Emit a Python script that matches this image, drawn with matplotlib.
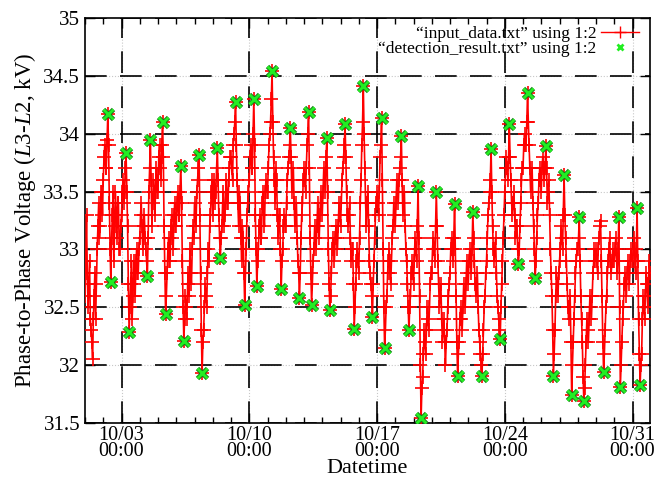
import matplotlib
matplotlib.use('Agg')
import matplotlib.pyplot as plt
import matplotlib.dates as mdates
from matplotlib.lines import Line2D
from matplotlib.ticker import MultipleLocator, FormatStrFormatter
import numpy as np
import pandas as pd

plt.rcParams['font.family'] = ['Liberation Serif', 'DejaVu Serif']
plt.rcParams['mathtext.fontset'] = 'custom'
plt.rcParams['mathtext.rm'] = 'Liberation Serif'
plt.rcParams['mathtext.it'] = 'Liberation Serif:italic'

# hourly voltage readings (kV), one row per day from 10/01 to 10/31
voltage_rows = [
    [32.6, 32.9, 33.3, 32.8, 32.5, 32.7, 32.9, 32.4, 32.3, 32.2, 32.05, 32.4, 32.6, 32.8, 32.4, 32.7, 33.0, 33.2, 33.4, 33.1, 33.2, 33.5, 33.5, 33.3],
    [33.6, 33.8, 33.9, 33.7, 33.7, 33.95, 34.17, 33.9, 33.4, 33.0, 32.72, 33.1, 33.3, 33.5, 32.9, 33.2, 33.5, 33.3, 33.1, 33.4, 33.4, 33.0, 33.0, 33.2],
    [33.3, 33.5, 33.6, 33.4, 33.5, 33.7, 33.83, 33.5, 33.2, 32.7, 32.29, 32.5, 32.7, 32.9, 32.4, 32.6, 32.9, 32.7, 32.6, 32.9, 33.0, 32.8, 32.8, 33.0],
    [33.1, 33.3, 33.4, 33.2, 33.0, 33.2, 33.3, 33.1, 33.0, 32.9, 32.77, 33.1, 33.5, 33.7, 33.95, 33.6, 33.2, 33.4, 33.6, 33.5, 33.3, 33.6, 33.7, 33.5],
    [33.5, 33.8, 33.9, 33.7, 33.6, 33.9, 34.10, 33.8, 33.2, 32.8, 32.44, 32.6, 32.8, 33.0, 33.1, 32.9, 32.9, 33.2, 33.3, 33.1, 33.0, 33.3, 33.4, 33.2],
    [33.2, 33.4, 33.5, 33.3, 33.3, 33.5, 33.72, 33.4, 32.9, 32.5, 32.21, 32.4, 32.6, 32.5, 32.4, 32.7, 32.8, 32.6, 33.0, 32.8, 32.7, 33.0, 33.2, 33.1],
    [33.4, 33.3, 33.2, 33.5, 33.6, 33.7, 33.82, 33.3, 32.8, 32.3, 31.93, 32.2, 32.3, 32.5, 32.7, 32.6, 32.5, 32.8, 33.0, 32.9, 33.2, 33.3, 33.5, 33.6],
    [33.3, 33.5, 33.6, 33.4, 33.5, 33.7, 33.88, 33.6, 33.3, 33.1, 32.93, 33.1, 33.2, 33.4, 33.5, 33.2, 33.3, 33.5, 33.6, 33.4, 33.4, 33.6, 33.7, 33.8],
    [33.8, 33.7, 33.6, 33.9, 34.0, 34.1, 34.27, 33.9, 33.6, 33.4, 33.2, 33.5, 33.4, 33.1, 32.9, 33.2, 33.1, 32.8, 32.52, 32.8, 33.0, 33.3, 33.4, 33.5],
    [33.6, 33.8, 33.9, 33.7, 33.7, 34.0, 34.30, 33.9, 33.3, 33.0, 32.68, 32.9, 33.0, 33.2, 33.3, 33.1, 33.1, 33.4, 33.5, 33.3, 33.2, 33.5, 33.6, 33.5],
    [33.5, 33.7, 33.9, 34.0, 34.1, 34.3, 34.54, 34.1, 33.8, 33.6, 33.4, 33.7, 33.6, 33.3, 33.1, 33.3, 33.3, 33.0, 32.66, 32.9, 33.0, 33.2, 33.3, 33.2],
    [33.2, 33.4, 33.6, 33.7, 33.8, 33.9, 34.05, 33.8, 33.5, 33.6, 33.7, 33.4, 33.2, 33.3, 33.4, 33.1, 32.9, 32.8, 32.58, 32.8, 33.1, 33.3, 33.4, 33.6],
    [33.7, 33.6, 33.5, 33.7, 33.9, 34.0, 34.19, 33.7, 33.1, 32.8, 32.52, 32.7, 32.9, 33.0, 33.2, 33.1, 33.0, 33.2, 33.4, 33.2, 33.1, 33.3, 33.5, 33.4],
    [33.3, 33.5, 33.7, 33.6, 33.5, 33.8, 33.96, 33.5, 33.0, 32.7, 32.48, 32.6, 32.8, 33.0, 33.1, 33.0, 32.9, 33.1, 33.2, 33.1, 33.0, 33.2, 33.4, 33.3],
    [33.2, 33.4, 33.6, 33.7, 33.8, 33.9, 34.08, 33.8, 33.5, 33.3, 33.2, 33.3, 33.4, 33.1, 32.9, 33.0, 33.0, 32.7, 32.31, 32.5, 32.7, 32.9, 33.0, 32.9],
    [32.8, 33.1, 33.4, 33.6, 33.9, 34.1, 34.41, 34.0, 33.7, 33.4, 33.2, 33.4, 33.5, 33.2, 32.9, 32.8, 32.7, 32.6, 32.42, 32.7, 32.9, 33.1, 33.3, 33.4],
    [33.5, 33.4, 33.3, 33.5, 33.8, 33.9, 34.14, 33.6, 33.0, 32.5, 32.15, 32.3, 32.5, 32.6, 32.8, 32.9, 33.0, 32.8, 32.7, 32.9, 33.1, 33.2, 33.4, 33.3],
    [33.2, 33.4, 33.6, 33.5, 33.4, 33.6, 33.7, 33.8, 33.98, 33.6, 33.3, 33.4, 33.5, 33.2, 33.0, 32.9, 32.7, 32.5, 32.30, 32.5, 32.6, 32.8, 32.9, 32.8],
    [32.7, 32.9, 33.1, 33.0, 32.9, 33.2, 33.55, 33.1, 32.6, 32.0, 31.54, 31.8, 31.9, 32.1, 32.3, 32.2, 32.1, 32.3, 32.5, 32.4, 32.3, 32.5, 32.7, 32.8],
    [32.8, 33.0, 33.1, 33.0, 32.9, 33.2, 33.50, 33.2, 32.9, 32.7, 32.5, 32.6, 32.7, 32.4, 32.2, 32.3, 32.4, 32.2, 32.0, 32.2, 32.3, 32.5, 32.6, 32.7],
    [32.8, 33.0, 33.1, 33.0, 32.9, 33.1, 33.39, 33.0, 32.6, 32.2, 31.91, 32.1, 32.2, 32.4, 32.5, 32.4, 32.3, 32.5, 32.7, 32.6, 32.5, 32.7, 32.9, 32.8],
    [32.7, 32.9, 33.0, 32.9, 32.8, 33.0, 33.32, 33.1, 32.9, 32.7, 32.6, 32.7, 32.8, 32.5, 32.3, 32.2, 32.1, 32.0, 31.91, 32.1, 32.3, 32.5, 32.6, 32.8],
    [32.9, 33.1, 33.3, 33.4, 33.5, 33.6, 33.87, 33.5, 33.2, 33.0, 32.9, 33.0, 33.1, 32.8, 32.6, 32.5, 32.4, 32.3, 32.23, 32.5, 32.7, 32.9, 33.1, 33.3],
    [33.5, 33.7, 33.8, 33.7, 33.6, 33.8, 34.08, 33.8, 33.6, 33.4, 33.3, 33.4, 33.5, 33.3, 33.1, 33.2, 33.2, 33.0, 32.87, 33.0, 33.2, 33.4, 33.6, 33.7],
    [33.7, 33.9, 34.0, 33.9, 33.9, 34.1, 34.35, 34.1, 33.9, 33.7, 33.5, 33.6, 33.7, 33.4, 33.2, 33.0, 32.75, 32.9, 33.1, 33.3, 33.4, 33.6, 33.7, 33.6],
    [33.5, 33.7, 33.8, 33.7, 33.6, 33.7, 33.89, 33.7, 33.4, 33.5, 33.6, 33.3, 33.0, 32.8, 32.6, 32.3, 31.91, 32.1, 32.3, 32.6, 32.8, 32.7, 32.6, 32.8],
    [32.9, 33.0, 33.2, 33.1, 33.0, 33.3, 33.64, 33.3, 33.1, 32.9, 32.7, 32.5, 32.4, 32.5, 32.6, 32.2, 31.74, 32.0, 32.2, 32.4, 32.6, 32.8, 32.9, 33.0],
    [33.0, 33.1, 33.28, 32.9, 32.6, 32.4, 32.2, 31.9, 31.69, 31.8, 32.0, 32.2, 32.4, 32.3, 32.2, 32.4, 32.6, 32.5, 32.4, 32.6, 32.8, 32.9, 33.0, 32.9],
    [33.0, 32.9, 32.8, 33.0, 33.1, 33.2, 33.25, 32.9, 32.6, 32.2, 31.94, 32.1, 32.3, 32.5, 32.6, 32.8, 32.9, 33.0, 33.1, 32.9, 32.8, 32.9, 33.0, 32.9],
    [32.9, 33.0, 33.1, 32.9, 32.8, 33.0, 33.28, 32.5, 31.81, 32.0, 32.2, 32.4, 32.5, 32.7, 32.8, 32.7, 32.6, 32.8, 32.9, 32.8, 32.7, 32.9, 33.0, 32.9],
    [32.9, 33.0, 33.1, 32.9, 32.8, 33.0, 33.36, 32.9, 32.4, 32.1, 31.83, 32.0, 32.1, 32.4, 32.6, 32.5, 32.4, 32.6, 32.8, 32.7, 32.5, 32.7, 32.9, 32.8],
]

# detected daily extremes (MM-DD HH)
detect_times = [
    '10-02 06', '10-02 10', '10-03 06', '10-03 10', '10-04 10', '10-04 14',
    '10-05 06', '10-05 10', '10-06 06', '10-06 10', '10-07 06', '10-07 10',
    '10-08 06', '10-08 10', '10-09 06', '10-09 18', '10-10 06', '10-10 10',
    '10-11 06', '10-11 18', '10-12 06', '10-12 18', '10-13 06', '10-13 10',
    '10-14 06', '10-14 10', '10-15 06', '10-15 18', '10-16 06', '10-16 18',
    '10-17 06', '10-17 10', '10-18 08', '10-18 18', '10-19 06', '10-19 10',
    '10-20 06', '10-21 06', '10-21 10', '10-22 06', '10-22 18', '10-23 06',
    '10-23 18', '10-24 06', '10-24 18', '10-25 06', '10-25 16', '10-26 06',
    '10-26 16', '10-27 06', '10-27 16', '10-28 02', '10-28 08', '10-29 10',
    '10-30 06', '10-30 08', '10-31 06', '10-31 10',
]
detect_values = [
    34.17, 32.72, 33.83, 32.29, 32.77, 33.95,
    34.10, 32.44, 33.72, 32.21, 33.82, 31.93,
    33.88, 32.93, 34.27, 32.52, 34.30, 32.68,
    34.54, 32.66, 34.05, 32.58, 34.19, 32.52,
    33.96, 32.48, 34.08, 32.31, 34.41, 32.42,
    34.14, 32.15, 33.98, 32.30, 33.55, 31.54,
    33.50, 33.39, 31.91, 33.32, 31.91, 33.87,
    32.23, 34.08, 32.87, 34.35, 32.75, 33.89,
    31.91, 33.64, 31.74, 33.28, 31.69, 31.94,
    33.28, 31.81, 33.36, 31.83,
]

year = 2013
voltage = np.concatenate([np.array(r) for r in voltage_rows])
times = pd.date_range(f'{year}-10-01 00:00', periods=len(voltage), freq='h')
dtimes = pd.to_datetime([f'{year}-{t}:00' for t in detect_times], format='%Y-%m-%d %H:%M')

fig = plt.figure(figsize=(6.58, 4.79), dpi=100)
ax = fig.add_axes([85 / 658, 56 / 479, 565 / 658, 405 / 479])

ax.plot(times, voltage, color='#ff0000', linewidth=1.2, marker='+',
        markersize=10, markeredgewidth=1.2, zorder=3)
# detection marks: dark rim under a bright green cross
ax.plot(dtimes, detect_values, linestyle='none', marker='x', color='#1a7a1a',
        markersize=7.5, markeredgewidth=3.4, zorder=4)
ax.plot(dtimes, detect_values, linestyle='none', marker='x', color='#22ee22',
        markersize=6.5, markeredgewidth=2.0, zorder=5)

ax.set_xlim(pd.Timestamp(f'{year}-10-01 00:00'), pd.Timestamp(f'{year}-10-31 23:00'))
ax.set_ylim(31.5, 35)

ax.xaxis.set_major_locator(mdates.DayLocator(bymonthday=[3, 10, 17, 24, 31]))
ax.xaxis.set_minor_locator(mdates.DayLocator())
ax.xaxis.set_major_formatter(mdates.DateFormatter('%m/%d\n%H:%M'))
ax.yaxis.set_major_locator(MultipleLocator(0.5))
ax.yaxis.set_major_formatter(FormatStrFormatter('%g'))

ax.tick_params(which='both', direction='in', top=True, right=True, width=1.0)
ax.tick_params(which='major', length=7, labelsize=15)
ax.tick_params(axis='x', which='major', pad=2, labelsize=14.5)
ax.tick_params(which='minor', length=4)
for lbl in ax.get_xticklabels():
    lbl.set_linespacing(0.78)

# gnuplot-like grid: faint dotted line under a long black dash
for yv in np.arange(32.0, 35.0, 0.5):
    ax.axhline(yv, color='#c8c8c8', linewidth=0.8, linestyle=':', zorder=0)
for xv in ax.get_xticks():
    ax.axvline(xv, color='#c8c8c8', linewidth=0.8, linestyle=':', zorder=0)
ax.grid(True, which='major', color='black', linewidth=1.2, linestyle=(0, (13, 8)))
ax.set_axisbelow(True)
for s in ax.spines.values():
    s.set_linewidth(1.2)

ax.set_xlabel('Datetime', fontsize=16, labelpad=-1)
ax.set_ylabel(r'Phase-to-Phase Voltage ($\mathit{L3}$-$\mathit{L2}$, kV)', fontsize=16.5, labelpad=4)

handles = [
    Line2D([], [], color='#ff0000', linewidth=1.0, marker='+', markersize=8),
    Line2D([], [], linestyle='none', color='#22ee22', marker='x', markersize=5, markeredgewidth=2),
]
labels = ['\u201cinput_data.txt\u201d using 1:2', '\u201cdetection_result.txt\u201d using 1:2']
ax.legend(handles, labels, loc='upper right', bbox_to_anchor=(1.005, 1.015),
          frameon=False, markerfirst=False, fontsize=12.5, handlelength=2.2,
          handletextpad=0.25, labelspacing=-0.05, borderpad=0.3)

fig.savefig('out.png', dpi=100)
